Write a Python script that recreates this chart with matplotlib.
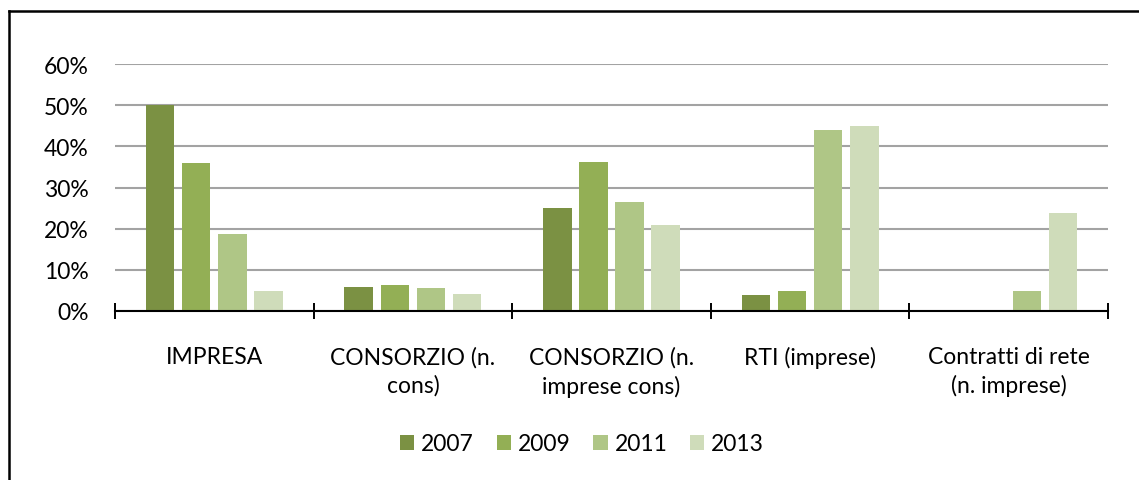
import numpy as np
import matplotlib.pyplot as plt
from matplotlib.lines import Line2D

categories = ["IMPRESA", "CONSORZIO (n.\ncons)", "CONSORZIO (n.\nimprese cons)",
              "RTI (imprese)", "Contratti di rete\n(n. imprese)"]
years = ["2007", "2009", "2011", "2013"]
v2007 = [50.0, 5.8, 25.0, 4.0, np.nan]
v2009 = [36.0, 6.2, 36.1, 4.8, np.nan]
v2011 = [18.8, 5.6, 26.4, 44.0, 4.8]
v2013 = [4.9, 4.1, 21.0, 45.0, 23.9]
colors = ["#7B9143", "#93AF55", "#AFC686", "#CFDCBA"]

plt.rcParams['font.family'] = ['Lato', 'DejaVu Sans']
fs = 16.5

fig = plt.figure(figsize=(11.39, 4.81), dpi=100)
ax = fig.add_axes([115 / 1139, 1 - 312 / 481, 993 / 1139, 247 / 481])

x = np.arange(len(categories))
step = 0.182
width = 0.1435
for i, (vals, yr) in enumerate(zip([v2007, v2009, v2011, v2013], years)):
    ax.bar(x + (i - 1.5) * step, vals, width, color=colors[i], label=yr, zorder=3)

ax.set_xlim(-0.5, len(categories) - 0.5)
ax.set_ylim(0, 60)
ax.set_yticks(range(0, 61, 10))
ax.set_yticklabels([f"{v}%" for v in range(0, 61, 10)], fontsize=fs)
ax.yaxis.grid(True, color="#A3A3A3", linewidth=1.5, zorder=0)
ax.set_axisbelow(True)

ax.set_xticks(x)
ax.set_xticklabels(categories, fontsize=fs, linespacing=1.4)
ax.set_xticks(np.arange(-0.5, len(categories), 1), minor=True)
ax.tick_params(axis="x", which="major", length=0, pad=25)
ax.tick_params(axis="x", which="minor", direction="inout", length=12, width=1.4, color="black")
ax.tick_params(axis="y", length=0, pad=19)

for s in ["top", "right", "left"]:
    ax.spines[s].set_visible(False)
ax.spines["bottom"].set_linewidth(1.5)
ax.spines["bottom"].set_zorder(4)

fig.legend(loc="center", bbox_to_anchor=(582 / 1139, 1 - 445 / 481), ncol=4,
           frameon=False, fontsize=fs, handlelength=0.62, handleheight=0.62,
           handletextpad=0.3, columnspacing=1.0)

# outer frame (left and top edges only are visible)
fig.add_artist(Line2D([9 / 1139, 9 / 1139], [0, 1 - 12 / 481], color="black", linewidth=1.8))
fig.add_artist(Line2D([9 / 1139, 1], [1 - 12 / 481, 1 - 12 / 481], color="black", linewidth=1.8))

plt.savefig("out.png", dpi=100)
